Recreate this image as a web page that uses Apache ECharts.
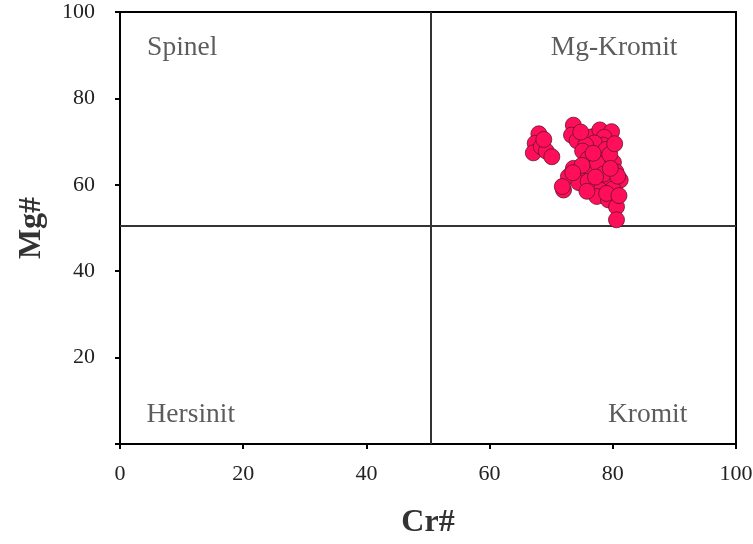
<!DOCTYPE html>
<html>
<head>
<meta charset="utf-8">
<script src="https://cdn.jsdelivr.net/npm/echarts@6/dist/echarts.min.js"></script>
<style>html,body{margin:0;padding:0;background:#fff;}#c{width:753px;height:544px;}</style>
</head>
<body>
<div id="c"></div>
<script>
var xTicks = [0, 20, 40, 60, 80, 100];
var yTicks = [20, 40, 60, 80, 100];
var crMg = [
  [68.0,71.8],[67.4,69.6],[67.1,67.4],[68.4,68.8],[69.2,67.8],[70.1,66.5],[68.8,70.5],
  [73.6,73.8],[73.3,71.5],[74.2,70.2],[76.6,71.1],[77.9,72.7],[79.8,72.3],[78.6,71.0],
  [78.4,69.2],[77.0,69.7],[75.6,69.2],[78.9,68.2],[75.1,67.8],[73.6,63.8],[72.8,61.9],
  [72.0,58.8],[71.8,59.6],[75.3,62.5],[76.6,63.0],[78.5,65.7],[80.1,65.2],[79.3,61.1],
  [81.2,61.1],[77.9,58.8],[77.4,57.3],[79.3,56.5],[80.6,54.9],[80.6,51.9],
  [76.0,66.0],[77.5,65.0],[79.5,67.0],[80.5,63.0],[75.0,64.5],[74.5,60.5],[76.0,60.8],
  [78.5,62.5],[80.0,59.0],[79.0,58.0],[81.0,57.5],[76.8,67.3],[80.3,69.5],[74.8,72.2],
  [77.2,61.8],[73.5,62.8],[80.8,62.0],[79.6,63.8],[75.8,58.5]
];
var dividers = { cr: 50.5, mg: 50.5 };
var fieldLabels = [
  { name: 'Spinel', value: [4.4, 91.8], pos: 'right' },
  { name: 'Mg-Kromit', value: [90.5, 91.8], pos: 'left' },
  { name: 'Hersinit', value: [4.3, 6.8], pos: 'right' },
  { name: 'Kromit', value: [92.1, 6.8], pos: 'left' }
];

var serif = '"Liberation Serif", "DejaVu Serif", serif';
var chart = echarts.init(document.getElementById('c'));
chart.setOption({
  animation: false,
  backgroundColor: '#fff',
  grid: { left: 120, right: 17, top: 12, bottom: 100, containLabel: false, outerBoundsMode: 'none',
    show: true, borderColor: '#000', borderWidth: 2, backgroundColor: 'transparent' },
  xAxis: {
    type: 'value', min: 0, max: 100, interval: 20,
    name: 'Cr#', nameLocation: 'middle', nameGap: 63,
    nameTextStyle: { fontFamily: serif, fontWeight: 'bold', fontSize: 32, color: '#333' },
    axisLine: { lineStyle: { color: '#000', width: 2 } },
    axisTick: { show: true, length: 5, lineStyle: { color: '#000', width: 2 } },
    axisLabel: { fontFamily: serif, fontSize: 22, color: '#222', margin: 19,
      formatter: function (v) { return xTicks.indexOf(v) >= 0 ? String(v) : ''; } },
    splitLine: { show: false }
  },
  yAxis: {
    type: 'value', min: 0, max: 100, interval: 20,
    name: 'Mg#', nameLocation: 'middle', nameGap: 72,
    nameTextStyle: { fontFamily: serif, fontWeight: 'bold', fontSize: 32, color: '#333' },
    axisLine: { lineStyle: { color: '#000', width: 2 } },
    axisTick: { show: true, length: 5, lineStyle: { color: '#000', width: 2 } },
    axisLabel: { fontFamily: serif, fontSize: 22, color: '#222', margin: 25,
      formatter: function (v) { return yTicks.indexOf(v) >= 0 ? String(v) : ''; } },
    splitLine: { show: false }
  },
  series: [
    {
      type: 'scatter', name: 'fields', symbolSize: 0, silent: true,
      data: fieldLabels.map(function (d) {
        return { name: d.name, value: d.value, label: { show: true, position: d.pos, distance: 0, formatter: d.name,
          fontFamily: serif, fontSize: 27.5, color: '#333' } };
      }),
      markLine: {
        silent: true, symbol: 'none', label: { show: false },
        lineStyle: { color: '#333', width: 2, type: 'solid' },
        data: [{ xAxis: dividers.cr }, { yAxis: dividers.mg }]
      },
      z: 1
    },
    {
      type: 'scatter', name: 'spinel', symbol: 'circle', symbolSize: 16,
      itemStyle: { color: '#FF0F5A', borderColor: '#6a1030', borderWidth: 0.8, opacity: 1 },
      data: crMg, z: 5
    }
  ]
});
</script>
</body>
</html>
